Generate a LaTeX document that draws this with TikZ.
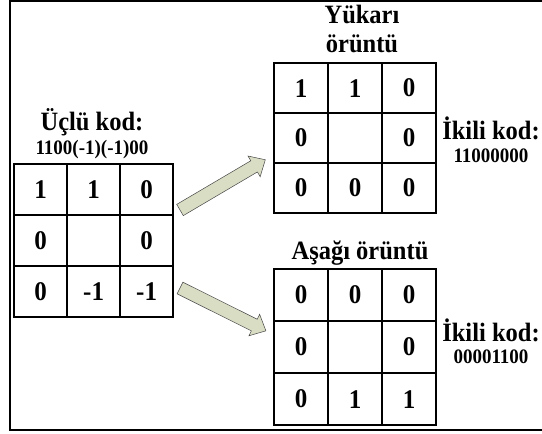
\documentclass[tikz,border=0pt]{standalone}
\usepackage{graphicx}
\usepackage{fontspec}
\setmainfont{Liberation Serif}
\newcommand{\tallt}[1]{\scalebox{1}[1.08]{#1}}
\begin{document}
\begin{tikzpicture}[x=1pt,y=-1pt]
\definecolor{arrowfill}{RGB}{216,221,196}
\definecolor{arrowline}{RGB}{70,70,70}
\tikzset{
  cellbox/.style={draw, line width=2.2pt, inner sep=0pt, anchor=north west,
    font=\fontsize{25}{27}\selectfont\bfseries},
  lcell/.style={cellbox, minimum width=53pt, minimum height=51pt},
  tcell/.style={cellbox, minimum width=54pt, minimum height=50pt},
  bcell/.style={cellbox, minimum width=54pt, minimum height=52pt},
  titletext/.style={inner sep=0pt, font=\fontsize{24.5}{26}\selectfont\bfseries},
  codetext/.style={inner sep=0pt, font=\fontsize{19}{21}\selectfont\bfseries},
  blockarrow/.style={fill=arrowfill, draw=arrowline, line width=0.5pt, line join=miter}
}
\useasboundingbox (0,0) rectangle (542,434);
% frame
\draw[line width=2pt] (543,1) -- (10,1) -- (10,430) -- (543,430);

% left grid
\foreach \r/\c/\v in {0/0/1,0/1/1,0/2/0,1/0/0,1/1/{},1/2/0,2/0/0,2/1/-1,2/2/-1}
  \node[lcell] (L\r\c) at ({13+53*\c},{163+51*\r}) {\tallt{\v}};
% top grid
\foreach \r/\c/\v in {0/0/1,0/1/1,0/2/0,1/0/0,1/1/{},1/2/0,2/0/0,2/1/0,2/2/0}
  \node[tcell] (T\r\c) at ({273+54*\c},{62+50*\r}) {\tallt{\v}};
% bottom grid
\foreach \r/\c/\v in {0/0/0,0/1/0,0/2/0,1/0/0,1/1/{},1/2/0,2/0/0,2/1/1,2/2/1}
  \node[bcell] (B\r\c) at ({273+54*\c},{268+52*\r}) {\tallt{\v}};

% texts
\node[titletext] (lt1) at (92,122) {\tallt{Üçlü kod:}};
\node[codetext] (lt2) at (92,150) {\tallt{1100(-1)(-1)00}};
\node[titletext] (tt1) at (362,14) {\tallt{Yükarı}};
\node[titletext] (tt2) at (362,44) {\tallt{örüntü}};
\node[titletext] (bt1) at (360,253) {\tallt{Aşağı örüntü}};
\node[titletext] (tr1) at (491,128) {\tallt{İkili kod:}};
\node[codetext] (tr2) at (491,156) {\tallt{11000000}};
\node[titletext] (br1) at (491,330) {\tallt{İkili kod:}};
\node[codetext] (br2) at (491,357) {\tallt{00001100}};

% block arrows
\coordinate (a1) at (180,210);
\coordinate (a2) at (180,288);
\begin{scope}[shift={(a1)}, rotate=30.5]
  \draw[blockarrow] (0,-6.5) -- (86,-6.5) -- (86,-12) -- (99,0) -- (86,12) -- (86,6.5) -- (0,6.5) -- cycle;
\end{scope}
\begin{scope}[shift={(a2)}, rotate=-26.5]
  \draw[blockarrow] (0,-6.5) -- (83,-6.5) -- (83,-12) -- (96,0) -- (83,12) -- (83,6.5) -- (0,6.5) -- cycle;
\end{scope}
\end{tikzpicture}
\end{document}
